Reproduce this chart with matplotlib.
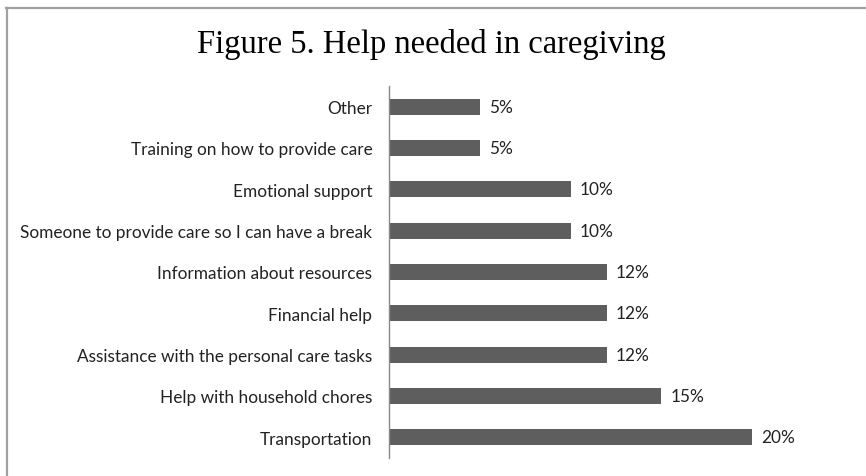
import matplotlib
matplotlib.use("Agg")
import matplotlib.pyplot as plt
from matplotlib.lines import Line2D

categories = [
    "Other",
    "Training on how to provide care",
    "Emotional support",
    "Someone to provide care so I can have a break",
    "Information about resources",
    "Financial help",
    "Assistance with the personal care tasks",
    "Help with household chores",
    "Transportation",
]
percent = [5, 5, 10, 10, 12, 12, 12, 15, 20]
title = "Figure 5. Help needed in caregiving"

W, H = 866, 477
fig = plt.figure(figsize=(W / 100, H / 100), dpi=100)

# axes placement in pixel units
ax_left, ax_right, ax_top, ax_bottom = 389, 866, 87, 459
ax = fig.add_axes([ax_left / W, 1 - ax_bottom / H,
                   (ax_right - ax_left) / W, (ax_bottom - ax_top) / H])

n = len(categories)
ypos = list(range(n))
ax.barh(ypos, percent, height=0.39, color="#5e5e5e", edgecolor="none")
ax.set_ylim(n - 0.5, -0.5)
ax.set_xlim(0, (ax_right - ax_left) / 18.15)

ax.set_yticks(ypos)
ax.set_yticklabels(categories, fontfamily="Lato", fontsize=12.4, color="#222222")
ax.tick_params(axis="y", length=0, pad=12)
ax.set_xticks([])
for s in ("top", "right", "bottom"):
    ax.spines[s].set_visible(False)
ax.spines["left"].set_color("#888888")
ax.spines["left"].set_linewidth(1.0)

for y, v in zip(ypos, percent):
    ax.text(v + 0.5, y, f"{v}%", va="center", ha="left",
            fontfamily="Lato", fontsize=12.4, color="#222222")

fig.text(431 / W, 1 - 45 / H, title, ha="center", va="center",
         fontfamily="Liberation Serif", fontsize=23.5, color="black")

# outer frame (top and left edges)
fig.add_artist(Line2D([6 / W, 1], [1 - 8.5 / H, 1 - 8.5 / H],
                      transform=fig.transFigure, color="#a0a0a0", lw=1.6))
fig.add_artist(Line2D([6.5 / W, 6.5 / W], [0, 1 - 8.5 / H],
                      transform=fig.transFigure, color="#a0a0a0", lw=1.6))

fig.savefig("out.png", dpi=100)
